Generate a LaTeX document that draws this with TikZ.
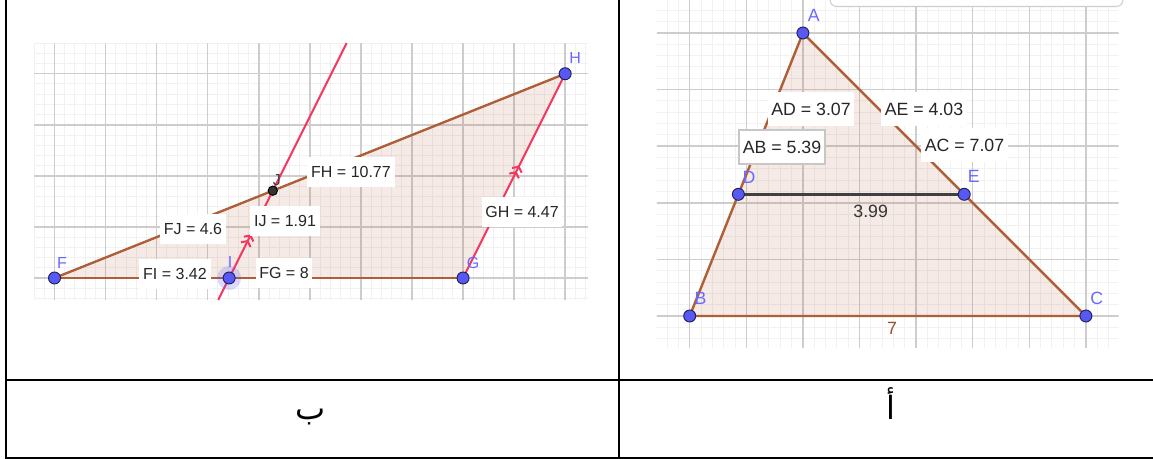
\documentclass[tikz,border=0pt]{standalone}
\usepackage{fontspec}
\setmainfont{Liberation Sans}
\newfontfamily\arabicfont[Script=Arabic]{DejaVu Sans}
\TeXXeTstate=1
\usetikzlibrary{arrows.meta,decorations.markings}

\definecolor{ggbrown}{RGB}{175,95,55}
\definecolor{ggred}{RGB}{245,55,95}
\definecolor{ggblue}{RGB}{88,88,245}
\definecolor{gglab}{RGB}{105,105,255}
\definecolor{ggmajor}{RGB}{205,205,205}
\definecolor{ggminor}{RGB}{241,241,241}

\begin{document}
\begin{tikzpicture}[x=0.75pt,y=-0.75pt,
    minor/.style={ggminor,line width=0.7pt},
    major/.style={ggmajor,line width=1.1pt},
    side/.style={ggbrown,line width=1.8pt},
    par/.style={ggred,line width=1.5pt},
    poly/.style={fill=ggbrown,fill opacity=0.13},
    pt/.style={circle,fill=ggblue,draw=ggblue!35!black,line width=0.7pt,inner sep=0pt,minimum size=9pt},
    halo/.style={circle,fill=ggblue,fill opacity=0.22,inner sep=0pt,minimum size=18pt},
    plab/.style={text=gglab,inner sep=0pt,font=\fontsize{12}{14}\selectfont},
    lmeas/.style={fill=white,text=black!85,inner xsep=2.8pt,inner ysep=0pt,minimum height=22.5pt,font=\fontsize{12}{14}\selectfont},
    rmeas/.style={lmeas,minimum height=25.5pt,font=\fontsize{13.3}{15}\selectfont},
    parmark/.style={postaction={decorate},decoration={markings,mark=at position #1 with {\arrow{Straight Barb[length=3pt,width=8pt] Straight Barb[length=3pt,width=8pt]}}}},
    caption/.style={anchor=base,font=\arabicfont\fontsize{24}{28}\selectfont},
    rule/.style={line width=1.5pt}]

  \useasboundingbox (0,0) rectangle (1153,459);

  % left screenshot (b): triangle FGH, line through I parallel to GH
  \begin{scope}[shift={(54.5,278)},x=38.3pt,y=38.3pt]
    \begin{scope}
      \clip (-0.40,-0.43) rectangle (10.45,4.60);
      \draw[minor,step=0.2] (-1,-1) grid (11,5);
      \draw[major,step=1] (-1,-1) grid (11,5);
    \end{scope}
    \coordinate (F) at (0,0);
    \coordinate (G) at (8,0);
    \coordinate (H) at (10,4);
    \coordinate (I) at (3.42,0);
    \coordinate (J) at (4.275,1.71);
    \coordinate (Ilo) at (3.205,-0.43);
    \coordinate (Ihi) at (5.72,4.60);
    \fill[poly] (F) -- (G) -- (H) -- cycle;
    \draw[side] (F) -- (G);
    \draw[side] (F) -- (H);
    \draw[par,parmark=0.55] (G) -- (H);
    \draw[par] (Ilo) -- (Ihi);
    \path[par,parmark=0.5] (I) -- (J);
  \end{scope}

  % right screenshot (a): triangle ABC cut by DE
  \begin{scope}[shift={(689.7,316)},x=42.45pt,y=42.45pt]
    \begin{scope}
      \clip (-0.58,-0.55) rectangle (7.58,5.60);
      \draw[minor,step=0.2] (-1,-1) grid (8,6);
      \draw[major,step=1] (-1,-1) grid (8,6);
    \end{scope}
    \coordinate (A) at (2,5);
    \coordinate (B) at (0,0);
    \coordinate (C) at (7,0);
    \coordinate (D) at (0.86,2.15);
    \coordinate (E) at (4.85,2.15);
    \fill[poly] (A) -- (B) -- (C) -- cycle;
    \draw[side] (A) -- (B) -- (C) -- cycle;
    \draw[black!75,line width=2pt] (D) -- (E);
  \end{scope}
  \draw[ggmajor,fill=white,rounded corners=5pt,line width=0.8pt] (830,-10) rectangle (1123,6.5);

  % measures
  \node[lmeas] (mFH) at (351,172) {FH = 10.77};
  \node[lmeas] (mFJ) at (193,229) {FJ = 4.6};
  \node[lmeas] (mIJ) at (285,221) {IJ = 1.91};
  \node[lmeas] (mFI) at (175,274) {FI = 3.42};
  \node[lmeas] (mFG) at (284,273) {FG = 8};
  \node[lmeas] (mGH) at (522,212) {GH = 4.47};
  \node[rmeas] (mAD) at (811,109) {AD = 3.07};
  \node[rmeas] (mAE) at (924,109) {AE = 4.03};
  \node[rmeas,draw=black!22,line width=1.1pt] (mAB) at (782,147) {AB = 5.39};
  \node[rmeas] (mAC) at (964.5,145) {AC = 7.07};
  \node[text=black!80,inner sep=0pt,font=\fontsize{13.3}{15}\selectfont] (mDE) at (870.7,211) {3.99};
  \node[text=ggbrown!85!black,inner sep=0pt,font=\fontsize{13.3}{15}\selectfont] (mBC) at (892,328) {7};

  % points
  \node[halo] (hI) at (I) {};
  \foreach \p in {F,G,H,I,A,B,C,D,E}
    \node[pt] (p\p) at (\p) {};
  \node[pt,fill=black!80,draw=black,minimum size=7pt] (pJ) at (J) {};

  \node[plab] (lF) at ([shift={(5.6pt,11.2pt)}]F) {F};
  \node[plab] (lI) at ([shift={(0.8pt,12pt)}]I) {I};
  \node[plab] (lG) at ([shift={(7.5pt,11.2pt)}]G) {G};
  \node[plab] (lH) at ([shift={(7.5pt,12pt)}]H) {H};
  \node[plab,text=black!75] (lJ) at ([shift={(3pt,8.3pt)}]J) {J};
  \begin{scope}[plab/.append style={font=\fontsize{13.3}{15}\selectfont}]
    \node[plab] (lA) at ([shift={(8.2pt,13.5pt)}]A) {A};
    \node[plab] (lB) at ([shift={(8.2pt,13.5pt)}]B) {B};
    \node[plab] (lC) at ([shift={(8.2pt,13.5pt)}]C) {C};
    \node[plab] (lD) at ([shift={(8pt,12.8pt)}]D) {D};
    \node[plab] (lE) at ([shift={(7.1pt,13.5pt)}]E) {E};
  \end{scope}

  % table rules
  \draw[rule] (6,0) -- (6,457.5) -- (1153,457.5);
  \draw[rule] (6,380.5) -- (1153,380.5);
  \draw[rule] (619,0) -- (619,457.5);
  \node[caption] (capB) at (311,420) {\beginR ب\endR};
  \node[caption] (capA) at (891,420) {\beginR أ\endR};
\end{tikzpicture}
\end{document}
